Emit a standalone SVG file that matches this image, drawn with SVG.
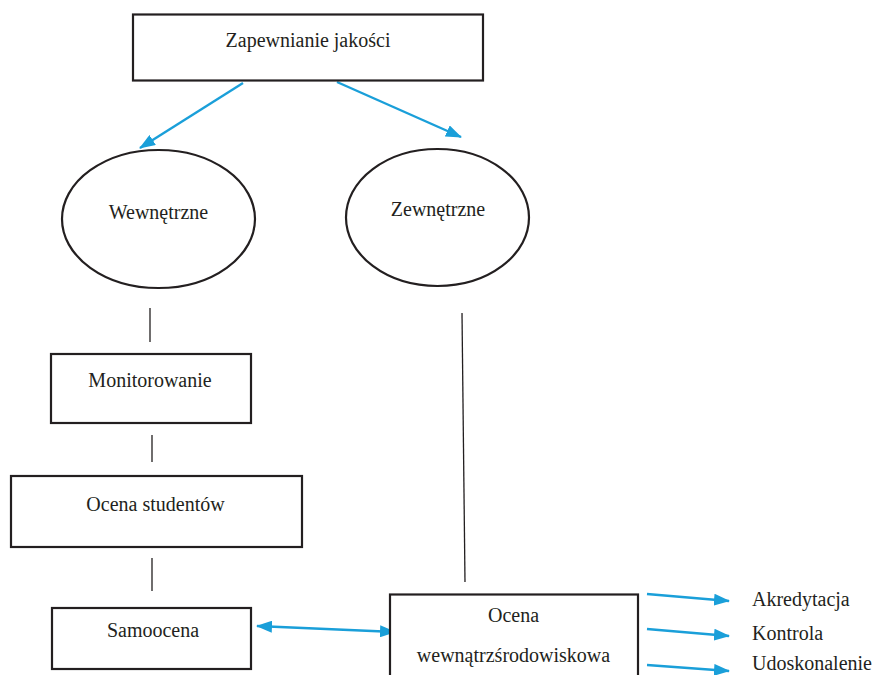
<svg xmlns="http://www.w3.org/2000/svg" width="875" height="675" viewBox="0 0 875 675">
<style>
.box{fill:#fff;stroke:#231f20;stroke-width:2.2}
.ell{fill:#fff;stroke:#231f20;stroke-width:2.2}
.t{font-family:"Liberation Serif","Times New Roman",serif;font-size:20px;fill:#231f20}
.c{text-anchor:middle}
.ln{stroke:#231f20;stroke-width:1.3;fill:none}
.ar{stroke:#1a9fd9;stroke-width:2.4;fill:none}
</style>
<defs>
<marker id="ah" markerUnits="userSpaceOnUse" markerWidth="16" markerHeight="12" refX="15" refY="6" orient="auto">
<path d="M0,0 L16,6 L0,12 Z" fill="#1a9fd9"/>
</marker>
<marker id="ahs" markerUnits="userSpaceOnUse" markerWidth="16" markerHeight="12" refX="1" refY="6" orient="auto">
<path d="M16,0 L0,6 L16,12 Z" fill="#1a9fd9"/>
</marker>
</defs>
<rect width="875" height="675" fill="#fff"/>
<g id="connectors">
<path class="ar" d="M243,83 L140,148" marker-end="url(#ah)"/>
<path class="ar" d="M337,82 L461,137" marker-end="url(#ah)"/>
<line class="ln" x1="150" y1="308" x2="150" y2="342"/>
<line class="ln" x1="152" y1="435" x2="152" y2="462"/>
<line class="ln" x1="152" y1="558" x2="152" y2="591"/>
<line class="ln" x1="462" y1="313" x2="465" y2="582"/>
<path class="ar" d="M257,626 L395,632" marker-start="url(#ahs)" marker-end="url(#ah)"/>
<path class="ar" d="M647,594 L729,601" marker-end="url(#ah)"/>
<path class="ar" d="M647,629 L729,636" marker-end="url(#ah)"/>
<path class="ar" d="M647,665 L729,671" marker-end="url(#ah)"/>
</g>
<g id="zapewnianie">
<rect class="box" x="133" y="14.5" width="350" height="66"/>
<text class="t c" x="308" y="47">Zapewnianie jakości</text>
</g>
<g id="wewnetrzne">
<ellipse class="ell" cx="158.5" cy="219" rx="96.5" ry="69"/>
<text class="t c" x="158.5" y="219">Wewnętrzne</text>
</g>
<g id="zewnetrzne">
<ellipse class="ell" cx="437.5" cy="217.5" rx="91.5" ry="68.5"/>
<text class="t c" x="438" y="216">Zewnętrzne</text>
</g>
<g id="monitorowanie">
<rect class="box" x="51" y="354" width="200" height="69"/>
<text class="t c" x="150" y="387">Monitorowanie</text>
</g>
<g id="ocena-studentow">
<rect class="box" x="11" y="476" width="291" height="71"/>
<text class="t c" x="155.5" y="511">Ocena studentów</text>
</g>
<g id="samoocena">
<rect class="box" x="52" y="608" width="199" height="61"/>
<text class="t c" x="153" y="637">Samoocena</text>
</g>
<g id="ocena-wewn">
<rect class="box" x="390" y="594.5" width="248" height="100"/>
<text class="t c" x="513.5" y="622">Ocena</text>
<text class="t c" x="513.5" y="662">wewnątrzśrodowiskowa</text>
</g>
<g id="akredytacja"><text class="t" x="752" y="606">Akredytacja</text></g>
<g id="kontrola"><text class="t" x="752" y="640">Kontrola</text></g>
<g id="udoskonalenie"><text class="t" x="752" y="670">Udoskonalenie</text></g>
</svg>
